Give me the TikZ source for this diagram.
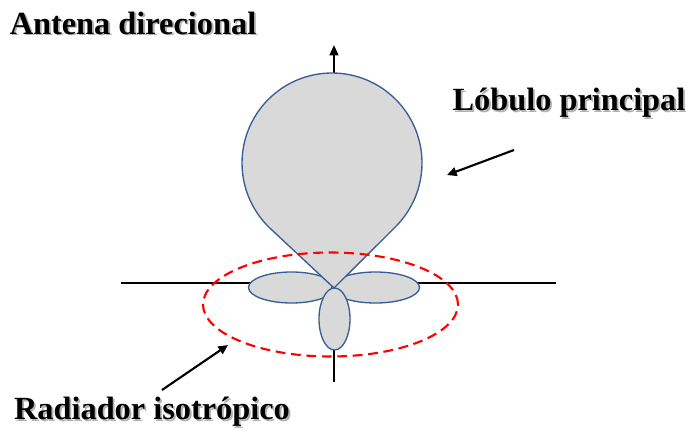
\documentclass[tikz,border=0pt]{standalone}
\usepackage{fontspec}
\setmainfont{Liberation Serif}
\usetikzlibrary{calc,arrows.meta}

\definecolor{lobeline}{RGB}{56,93,150}
\definecolor{lobefill}{RGB}{217,217,217}
\newcommand{\shadowed}[1]{\rlap{\kern1.3pt\raisebox{-1.3pt}{\textcolor{black!30}{#1}}}#1}

\tikzset{
	lobe/.style = {draw = lobeline, fill = lobefill, line width = 0.95pt},
	axis/.style = {line width = 1.5pt},
	pointer/.style = {line width = 1.5pt, -{Triangle[length = 2.4mm, width = 2.2mm]}},
	label/.style = {font = \fontsize{23}{27}\selectfont\bfseries, inner sep = 0pt}
}

\begin{document}
\begin{tikzpicture}[x = 0.025cm, y = 0.025cm]
		\useasboundingbox (0,0) rectangle (686,430);
		% axes
		\draw [axis] (121,147) -- (556,147);
		\draw [axis, -{Triangle[length = 2.6mm, width = 2.2mm]}] (334,48) -- (334,385);
		% lobes
		\draw [lobe] (291.5,142.5) ellipse [x radius = 43, y radius = 15.5];
		\draw [lobe] (375.5,142.5) ellipse [x radius = 44, y radius = 15.5];
		\draw [lobe] (334.5,111) ellipse [x radius = 15.5, y radius = 31];
		\coordinate (centre) at (332,267);
		\coordinate (tip) at (334,142);
		\draw [lobe] (tip) -- ($(centre)+(-45.13:90)$) arc [start angle = -45.13, end angle = 226.97, radius = 90] -- cycle;
		% isotropic reference
		\draw [red, line width = 1.5pt, dash pattern = on 7pt off 4pt] (330.5,125.5) ellipse [x radius = 127.5, y radius = 52];
		% labels
		\node [label] (antena) at (133,406) {\shadowed{Antena direcional}};
		\node [label] (lobulo) at (569,326) {\shadowed{Lóbulo principal}};
		\node [label] (radiador) at (152,17) {\shadowed{Radiador isotrópico}};
		\coordinate (lobstart) at (514,280);
		\coordinate (lobend) at (447,255);
		\coordinate (radstart) at (162,40);
		\coordinate (radend) at (228,85);
		\draw [pointer] (lobstart) -- (lobend);
		\draw [pointer] (radstart) -- (radend);
	\end{tikzpicture}
\end{document}
